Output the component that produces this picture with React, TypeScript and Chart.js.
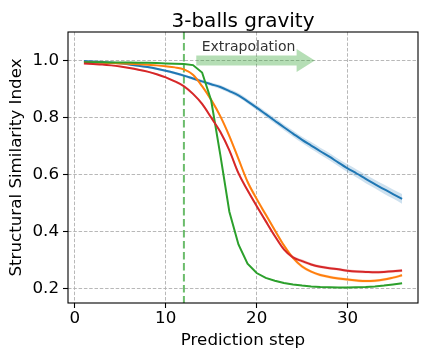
import React, { useEffect, useRef } from "react";
import { Chart, registerables } from "chart.js";

Chart.register(...registerables);

const steps = [1, 2, 3, 4, 5, 6, 7, 8, 9, 10, 11, 12, 13, 14, 15, 16, 17, 18, 19, 20, 21, 22, 23, 24, 25, 26, 27, 28, 29, 30, 31, 32, 33, 34, 35, 36];

const blueMean = [0.998, 0.997, 0.995, 0.993, 0.99, 0.986, 0.982, 0.977, 0.971, 0.964, 0.956, 0.947, 0.937, 0.927, 0.917, 0.907, 0.893, 0.878, 0.857, 0.835, 0.812, 0.789, 0.766, 0.744, 0.722, 0.702, 0.682, 0.663, 0.642, 0.622, 0.604, 0.585, 0.567, 0.549, 0.532, 0.515];
const blueStd = [0.002, 0.002, 0.002, 0.003, 0.003, 0.003, 0.003, 0.004, 0.004, 0.004, 0.005, 0.005, 0.005, 0.006, 0.006, 0.007, 0.007, 0.008, 0.008, 0.009, 0.009, 0.01, 0.01, 0.011, 0.011, 0.012, 0.012, 0.013, 0.013, 0.014, 0.014, 0.015, 0.015, 0.016, 0.016, 0.017];

const orangeMean = [0.993, 0.993, 0.992, 0.991, 0.99, 0.989, 0.987, 0.985, 0.983, 0.98, 0.976, 0.969, 0.95, 0.91, 0.862, 0.805, 0.735, 0.655, 0.575, 0.515, 0.46, 0.405, 0.352, 0.308, 0.278, 0.26, 0.248, 0.241, 0.236, 0.232, 0.229, 0.227, 0.228, 0.232, 0.239, 0.247];
const orangeStd = [0.001, 0.001, 0.001, 0.001, 0.001, 0.001, 0.001, 0.001, 0.001, 0.001, 0.002, 0.003, 0.004, 0.005, 0.006, 0.007, 0.008, 0.008, 0.008, 0.008, 0.008, 0.007, 0.007, 0.006, 0.006, 0.005, 0.005, 0.005, 0.005, 0.005, 0.005, 0.005, 0.005, 0.005, 0.005, 0.005];

const greenMean = [0.994, 0.994, 0.994, 0.993, 0.993, 0.993, 0.992, 0.992, 0.991, 0.99, 0.989, 0.988, 0.984, 0.958, 0.86, 0.67, 0.47, 0.355, 0.288, 0.255, 0.238, 0.228, 0.22, 0.215, 0.211, 0.208, 0.206, 0.205, 0.204, 0.204, 0.205, 0.206, 0.208, 0.211, 0.215, 0.219];
const greenStd = [0.001, 0.001, 0.001, 0.001, 0.001, 0.001, 0.001, 0.001, 0.001, 0.001, 0.001, 0.001, 0.002, 0.002, 0.003, 0.003, 0.003, 0.003, 0.002, 0.002, 0.002, 0.002, 0.002, 0.002, 0.002, 0.002, 0.002, 0.002, 0.002, 0.002, 0.002, 0.002, 0.002, 0.002, 0.002, 0.002];

const redMean = [0.99, 0.988, 0.986, 0.983, 0.979, 0.974, 0.968, 0.961, 0.952, 0.941, 0.927, 0.91, 0.883, 0.848, 0.8, 0.75, 0.685, 0.605, 0.545, 0.49, 0.437, 0.385, 0.338, 0.31, 0.297, 0.285, 0.277, 0.272, 0.268, 0.263, 0.26, 0.259, 0.258, 0.259, 0.261, 0.264];
const redStd = [0.002, 0.002, 0.002, 0.002, 0.002, 0.003, 0.003, 0.003, 0.003, 0.004, 0.004, 0.005, 0.005, 0.006, 0.006, 0.007, 0.007, 0.007, 0.007, 0.007, 0.007, 0.007, 0.006, 0.006, 0.006, 0.005, 0.005, 0.005, 0.005, 0.005, 0.005, 0.005, 0.005, 0.005, 0.005, 0.005];

const xTicks = [0, 10, 20, 30];
const yTicks = [0.2, 0.4, 0.6, 0.8, 1.0];

const titleText = "3-balls gravity";
const xLabel = "Prediction step";
const yLabel = "Structural Similarity Index";
const annotationText = "Extrapolation";
const cutoffStep = 12;
// arrow geometry in data units: [startX, headBaseX, tipX, y, shaftHalf, headHalf]
const arrowSpec = [13.36, 24.4, 26.4, 1.0, 0.0176, 0.04];
const annotationPos = [13.95, 1.033];

const FONT = "'DejaVu Sans', sans-serif";

type Series = { mean: number[]; std: number[]; color: string; band: string; order: number; smooth: boolean };
const series: Series[] = [
  { mean: blueMean, std: blueStd, color: "#1f77b4", band: "rgba(31,119,180,0.22)", order: 4, smooth: true },
  { mean: orangeMean, std: orangeStd, color: "#ff7f0e", band: "rgba(255,127,14,0.22)", order: 3, smooth: true },
  { mean: greenMean, std: greenStd, color: "#2ca02c", band: "rgba(44,160,44,0.22)", order: 2, smooth: false },
  { mean: redMean, std: redStd, color: "#d62728", band: "rgba(214,39,40,0.22)", order: 1, smooth: true },
];

const pts = (vals: number[]) => steps.map((s, i) => ({ x: s, y: vals[i] }));

export default function App() {
  const ref = useRef<HTMLCanvasElement>(null);
  useEffect(() => {
    document.body.style.margin = "0";
    const datasets: any[] = [];
    series.forEach((s) => {
      const mode = s.smooth ? "monotone" : "default";
      datasets.push({
        data: pts(s.mean.map((m, i) => m - s.std[i])),
        borderWidth: 0,
        pointRadius: 0,
        fill: false,
        order: 10 + s.order,
        borderColor: "transparent",
        cubicInterpolationMode: mode,
      });
      datasets.push({
        data: pts(s.mean.map((m, i) => m + s.std[i])),
        borderWidth: 0,
        pointRadius: 0,
        fill: "-1",
        backgroundColor: s.band,
        borderColor: "transparent",
        order: 10 + s.order,
        cubicInterpolationMode: mode,
      });
    });
    series.forEach((s) => {
      datasets.push({
        data: pts(s.mean),
        borderColor: s.color,
        borderWidth: 2,
        pointRadius: 0,
        fill: false,
        tension: 0,
        cubicInterpolationMode: s.smooth ? "monotone" : "default",
        order: s.order,
      });
    });

    const decor = {
      id: "decor",
      beforeDatasetsDraw(chart: any) {
        const { ctx, chartArea } = chart;
        const xs = chart.scales.x;
        const ys = chart.scales.y;
        ctx.save();
        const [sx, hx, tx, ay, sh, hh] = arrowSpec;
        const py = ys.getPixelForValue(ay);
        const shPx = ys.getPixelForValue(ay - sh) - py;
        const hhPx = ys.getPixelForValue(ay - hh) - py;
        ctx.beginPath();
        ctx.moveTo(xs.getPixelForValue(sx), py - shPx);
        ctx.lineTo(xs.getPixelForValue(hx), py - shPx);
        ctx.lineTo(xs.getPixelForValue(hx), py - hhPx);
        ctx.lineTo(xs.getPixelForValue(tx), py);
        ctx.lineTo(xs.getPixelForValue(hx), py + hhPx);
        ctx.lineTo(xs.getPixelForValue(hx), py + shPx);
        ctx.lineTo(xs.getPixelForValue(sx), py + shPx);
        ctx.closePath();
        ctx.fillStyle = "rgba(44,160,44,0.35)";
        ctx.fill();
        const cx = xs.getPixelForValue(cutoffStep);
        ctx.beginPath();
        ctx.setLineDash([7.5, 3.5]);
        ctx.strokeStyle = "rgba(44,160,44,0.7)";
        ctx.lineWidth = 2;
        ctx.moveTo(cx, chartArea.top);
        ctx.lineTo(cx, chartArea.bottom);
        ctx.stroke();
        ctx.setLineDash([]);
        ctx.font = `14px ${FONT}`;
        ctx.fillStyle = "#333333";
        ctx.textAlign = "left";
        ctx.textBaseline = "alphabetic";
        ctx.fillText(annotationText, xs.getPixelForValue(annotationPos[0]), ys.getPixelForValue(annotationPos[1]));
        ctx.restore();
      },
      afterDraw(chart: any) {
        const { ctx, chartArea } = chart;
        ctx.save();
        ctx.strokeStyle = "#000";
        ctx.lineWidth = 1.1;
        ctx.strokeRect(chartArea.left, chartArea.top, chartArea.right - chartArea.left, chartArea.bottom - chartArea.top);
        ctx.font = `20px ${FONT}`;
        ctx.fillStyle = "#000";
        ctx.textAlign = "center";
        ctx.textBaseline = "alphabetic";
        ctx.fillText(titleText, (chartArea.left + chartArea.right) / 2, 26.7);
        ctx.restore();
      },
    };

    const grid = {
      color: "#b0b0b0",
      lineWidth: 0.9,
      drawTicks: true,
      tickLength: 5,
      tickColor: "#000",
      tickWidth: 1.1,
      tickBorderDash: [],
    };
    const border = { display: false, dash: [3.5, 1.8] };

    const chart = new Chart(ref.current!, {
      type: "line",
      data: { datasets },
      options: {
        animation: false,
        responsive: false,
        devicePixelRatio: 1,
        layout: { padding: { top: 32, right: 14, left: 0, bottom: 0 } },
        plugins: {
          legend: { display: false },
          tooltip: { enabled: false },
          title: { display: false },
          filler: { propagate: false },
        },
        scales: {
          x: {
            type: "linear",
            min: -0.75,
            max: 37.75,
            border,
            grid,
            afterBuildTicks: (s: any) => {
              s.ticks = xTicks.map((v) => ({ value: v }));
            },
            afterFit: (s: any) => {
              s.height = 57;
            },
            ticks: {
              color: "#000",
              padding: 1,
              font: { family: FONT, size: 16.7 },
              maxRotation: 0,
              callback: (v: any) => String(v),
            },
            title: {
              display: true,
              text: xLabel,
              color: "#000",
              font: { family: FONT, size: 16.7 },
              padding: { top: 0, bottom: 9 },
            },
          },
          y: {
            type: "linear",
            min: 0.15,
            max: 1.1,
            border,
            grid,
            afterBuildTicks: (s: any) => {
              s.ticks = yTicks.map((v) => ({ value: v }));
            },
            afterFit: (s: any) => {
              s.width = 68;
            },
            ticks: {
              color: "#000",
              padding: 4,
              font: { family: FONT, size: 16.7 },
              callback: (v: any) => Number(v).toFixed(1),
            },
            title: {
              display: true,
              text: yLabel,
              color: "#000",
              font: { family: FONT, size: 16.7 },
              padding: { top: 7, bottom: 0 },
            },
          },
        },
      } as any,
      plugins: [decor],
    });
    return () => chart.destroy();
  }, []);
  return (
    <div style={{ position: "absolute", left: 0, top: 0, width: 432, height: 360 }}>
      <canvas ref={ref} width={432} height={360} style={{ width: 432, height: 360 }} />
    </div>
  );
}
